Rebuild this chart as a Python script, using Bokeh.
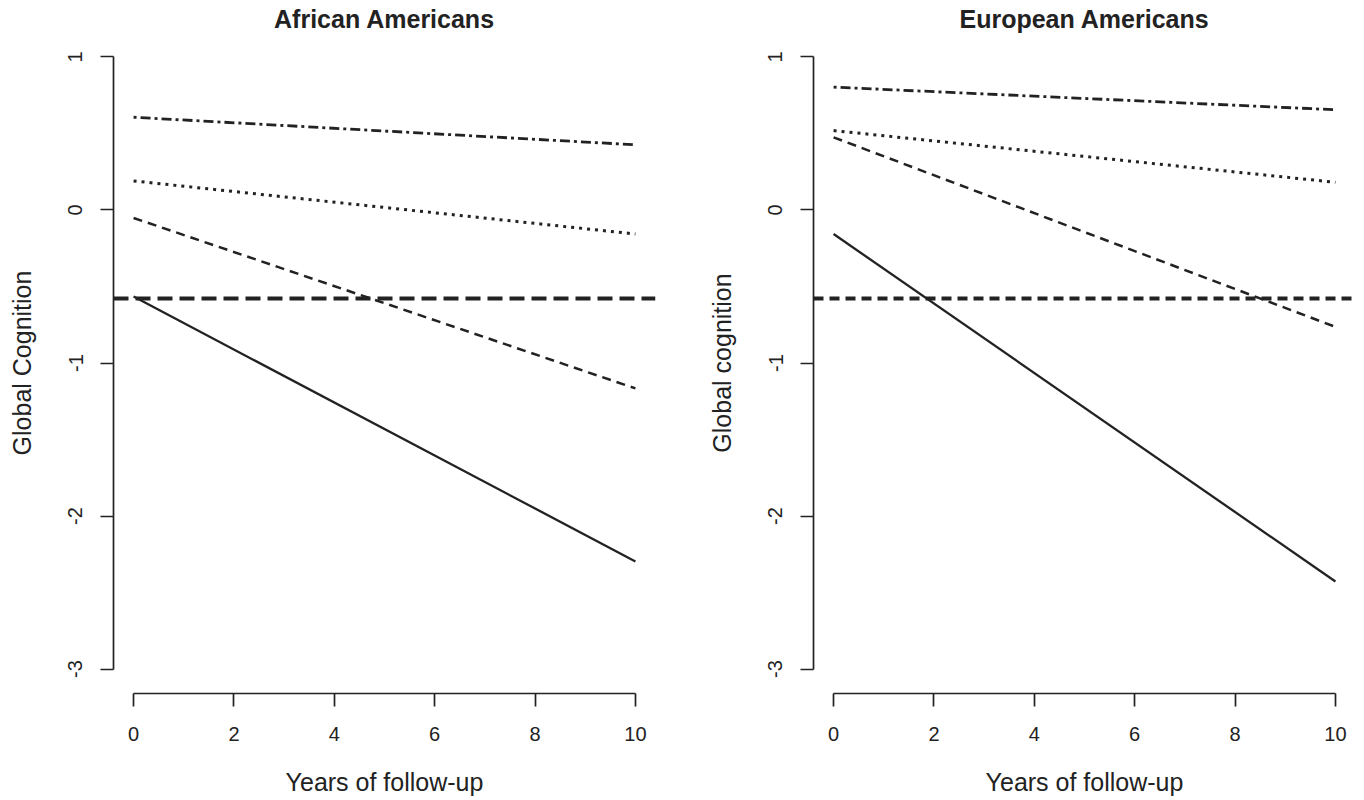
from bokeh.plotting import figure
from bokeh.models import Range1d, FixedTicker, Span
from bokeh.layouts import row
from bokeh.embed import file_html
from bokeh.resources import INLINE

# ---------------- data ----------------
years = [0, 10]
x_ticks = [0, 2, 4, 6, 8, 10]
y_ticks = [-3, -2, -1, 0, 1]
y_tick_labels = ["-3", "-2", "-1", "0", "1"]

panel_titles = ["African Americans", "European Americans"]
y_labels = ["Global Cognition", "Global cognition"]
x_label = "Years of follow-up"

# African Americans
aa_dotdash = [0.606, 0.426]
aa_dotted = [0.190, -0.157]
aa_dashed = [-0.052, -1.166]
aa_solid = [-0.566, -2.297]
aa_threshold = -0.579

# European Americans
ea_dotdash = [0.803, 0.655]
ea_dotted = [0.519, 0.181]
ea_dashed = [0.475, -0.764]
ea_solid = [-0.157, -2.428]
ea_threshold = -0.579

INK = "#222222"
FONT = "Liberation Sans"


def make_panel(title, ylab, dotdash, dotted, dashed, solid, thr, thr_dash,
               border_left, border_right, width):
    p = figure(width=width, height=800, output_backend="svg", toolbar_location=None,
               x_range=Range1d(-0.4, 10.4), y_range=Range1d(-3.16, 1.16),
               min_border_left=border_left, min_border_right=border_right,
               min_border_top=32, min_border_bottom=107)
    p.outline_line_color = None
    p.grid.visible = False
    p.background_fill_color = "white"
    p.border_fill_color = "white"

    p.title.text = title
    p.title.align = "center"
    p.title.text_font = FONT
    p.title.text_font_size = "25px"
    p.title.text_font_style = "bold"
    p.title.text_color = INK
    p.title.standoff = 0

    p.line(years, dotdash, line_color=INK, line_width=2.8, line_dash="3 4 10 4")
    p.line(years, dotted, line_color=INK, line_width=3, line_dash="3 5")
    p.line(years, dashed, line_color=INK, line_width=2.5, line_dash="9 6")
    p.line(years, solid, line_color=INK, line_width=2.3)
    p.add_layout(Span(location=thr, dimension="width", line_color=INK,
                      line_width=4, line_dash=thr_dash))

    for ax in (p.xaxis[0], p.yaxis[0]):
        ax.major_tick_out = 13
        ax.major_tick_in = 0
        ax.minor_tick_line_color = None
        ax.axis_line_color = INK
        ax.axis_line_width = 1.7
        ax.major_tick_line_color = INK
        ax.major_tick_line_width = 1.7
        ax.major_label_text_font = FONT
        ax.major_label_text_font_size = "20px"
        ax.major_label_text_color = INK
        ax.axis_label_text_font = FONT
        ax.axis_label_text_font_size = "25px"
        ax.axis_label_text_font_style = "normal"
        ax.axis_label_text_color = INK

    p.xaxis.ticker = FixedTicker(ticks=x_ticks)
    p.xaxis.bounds = (x_ticks[0], x_ticks[-1])
    p.xaxis.major_label_standoff = 20
    p.xaxis.axis_label = x_label
    p.xaxis.axis_label_standoff = 24

    p.yaxis.ticker = FixedTicker(ticks=y_ticks)
    p.yaxis.bounds = (y_ticks[0], y_ticks[-1])
    p.yaxis.major_label_overrides = {t: s for t, s in zip(y_ticks, y_tick_labels)}
    p.yaxis.major_label_orientation = "vertical"
    p.yaxis.major_label_standoff = 18
    p.yaxis.axis_label = ylab
    p.yaxis.axis_label_standoff = 30
    return p


p1 = make_panel(panel_titles[0], y_labels[0], aa_dotdash, aa_dotted, aa_dashed,
                aa_solid, aa_threshold, "15 7", 113, 27, 682)
p2 = make_panel(panel_titles[1], y_labels[1], ea_dotdash, ea_dotted, ea_dashed,
                ea_solid, ea_threshold, "10 6", 131, 9, 682)

layout = row(p1, p2)
open("out.html", "w").write(file_html(layout, INLINE))
